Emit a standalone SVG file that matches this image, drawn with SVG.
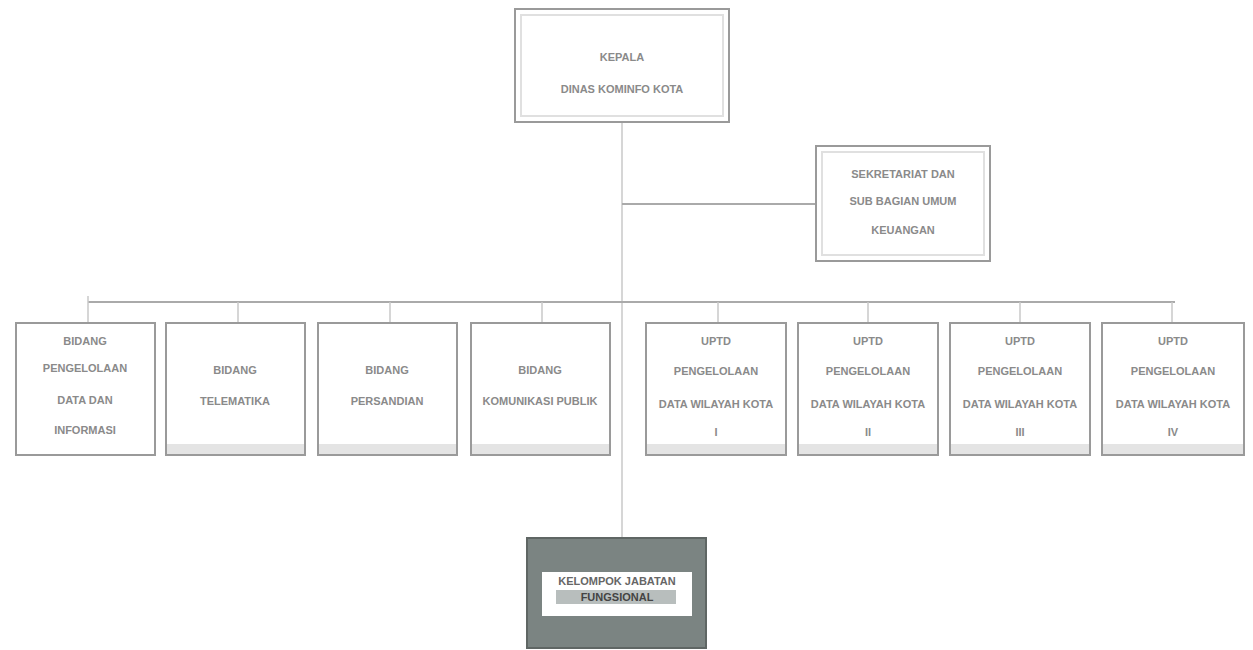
<svg xmlns="http://www.w3.org/2000/svg" width="1253" height="650" viewBox="0 0 1253 650">
<style>
.box{fill:#fff;stroke:#9a9a9a;stroke-width:2}
.inner{fill:none;stroke:#e0e0e0;stroke-width:2}
.band{fill:#e4e4e4;stroke:none}
.t{font-family:"Liberation Sans",Arial,sans-serif;font-size:11px;font-weight:bold;fill:#8a8a8a;text-anchor:middle}
.c{stroke:#aaa;stroke-width:2;fill:none}
.ct{stroke:#c8c8c8;stroke-width:1.5;fill:none}
</style>
<rect width="1253" height="650" fill="#fff"/>
<g id="connectors">
<line class="ct" x1="622" y1="123" x2="622" y2="540"/>
<line class="c" x1="622" y1="204" x2="815" y2="204"/>
<line class="c" x1="88" y1="302" x2="1175" y2="302"/>
<line class="ct" x1="88" y1="296" x2="88" y2="322"/>
<line class="ct" x1="238" y1="302" x2="238" y2="322"/>
<line class="ct" x1="390" y1="302" x2="390" y2="322"/>
<line class="ct" x1="542" y1="302" x2="542" y2="322"/>
<line class="ct" x1="718" y1="302" x2="718" y2="322"/>
<line class="ct" x1="868" y1="302" x2="868" y2="322"/>
<line class="ct" x1="1020" y1="302" x2="1020" y2="322"/>
<line class="ct" x1="1172" y1="302" x2="1172" y2="322"/>
</g>
<g id="kepala">
<rect class="box" x="515" y="9" width="214" height="113"/>
<rect class="inner" x="521" y="15" width="202" height="101"/>
<text class="t" x="622" y="61">KEPALA</text>
<text class="t" x="622" y="93">DINAS KOMINFO KOTA</text>
</g>
<g id="sekretariat">
<rect class="box" x="816" y="146" width="174" height="115"/>
<rect class="inner" x="822" y="152" width="162" height="103"/>
<text class="t" x="903" y="178">SEKRETARIAT DAN</text>
<text class="t" x="903" y="205">SUB BAGIAN UMUM</text>
<text class="t" x="903" y="234">KEUANGAN</text>
</g>
<g id="n1">
<rect class="box" x="16" y="323" width="139" height="132"/>
<text class="t" x="85" y="345">BIDANG</text>
<text class="t" x="85" y="372">PENGELOLAAN</text>
<text class="t" x="85" y="404">DATA DAN</text>
<text class="t" x="85" y="434">INFORMASI</text>
</g>
<g id="n2">
<rect class="box" x="166" y="323" width="139" height="132"/>
<rect class="band" x="167" y="444" width="137" height="10"/>
<text class="t" x="235" y="374">BIDANG</text>
<text class="t" x="235" y="405">TELEMATIKA</text>
</g>
<g id="n3">
<rect class="box" x="318" y="323" width="139" height="132"/>
<rect class="band" x="319" y="444" width="137" height="10"/>
<text class="t" x="387" y="374">BIDANG</text>
<text class="t" x="387" y="405">PERSANDIAN</text>
</g>
<g id="n4">
<rect class="box" x="471" y="323" width="139" height="132"/>
<rect class="band" x="472" y="444" width="137" height="10"/>
<text class="t" x="540" y="374">BIDANG</text>
<text class="t" x="540" y="405">KOMUNIKASI PUBLIK</text>
</g>
<g id="n5">
<rect class="box" x="646" y="323" width="140" height="132"/>
<rect class="band" x="647" y="444" width="138" height="10"/>
<text class="t" x="716" y="345">UPTD</text>
<text class="t" x="716" y="375">PENGELOLAAN</text>
<text class="t" x="716" y="408">DATA WILAYAH KOTA</text>
<text class="t" x="716" y="436">I</text>
</g>
<g id="n6">
<rect class="box" x="798" y="323" width="140" height="132"/>
<rect class="band" x="799" y="444" width="138" height="10"/>
<text class="t" x="868" y="345">UPTD</text>
<text class="t" x="868" y="375">PENGELOLAAN</text>
<text class="t" x="868" y="408">DATA WILAYAH KOTA</text>
<text class="t" x="868" y="436">II</text>
</g>
<g id="n7">
<rect class="box" x="950" y="323" width="140" height="132"/>
<rect class="band" x="951" y="444" width="138" height="10"/>
<text class="t" x="1020" y="345">UPTD</text>
<text class="t" x="1020" y="375">PENGELOLAAN</text>
<text class="t" x="1020" y="408">DATA WILAYAH KOTA</text>
<text class="t" x="1020" y="436">III</text>
</g>
<g id="n8">
<rect class="box" x="1102" y="323" width="142" height="132"/>
<rect class="band" x="1103" y="444" width="140" height="10"/>
<text class="t" x="1173" y="345">UPTD</text>
<text class="t" x="1173" y="375">PENGELOLAAN</text>
<text class="t" x="1173" y="408">DATA WILAYAH KOTA</text>
<text class="t" x="1173" y="436">IV</text>
</g>
<g id="fungsional">
<rect x="527" y="538" width="179" height="110" fill="#7b8482" stroke="#5f6664" stroke-width="2"/>
<rect x="542" y="572" width="150" height="44" fill="#fff"/>
<rect x="556" y="590" width="120" height="14" fill="#b8bebd"/>
<text class="t" x="617" y="585" style="fill:#666">KELOMPOK JABATAN</text>
<text class="t" x="617" y="601" style="fill:#444">FUNGSIONAL</text>
</g>
</svg>
